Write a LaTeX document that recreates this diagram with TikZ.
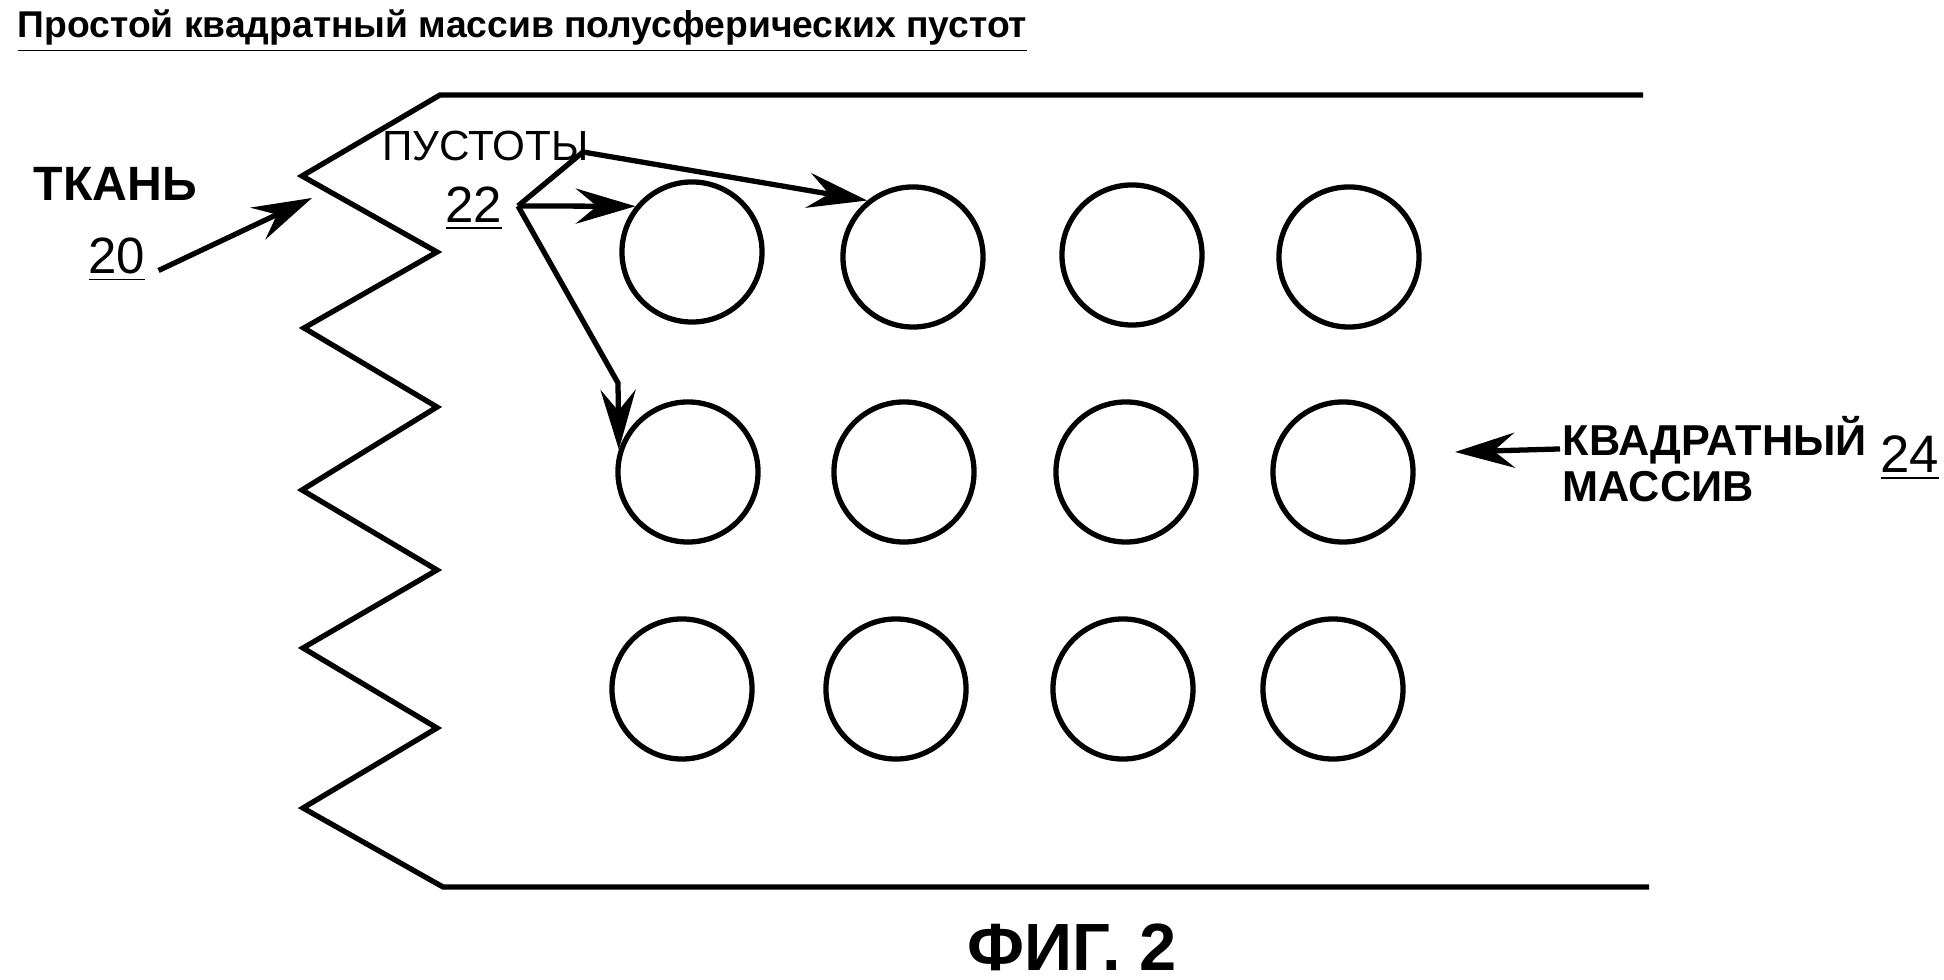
\documentclass[tikz,border=0pt]{standalone}
\usepackage{fontspec}
\setmainfont{Liberation Sans}
\usetikzlibrary{arrows.meta}

\tikzset{
  arr/.style={-{Stealth[length=17pt,width=10pt,inset=6pt]}},
  void/.style={draw,circle,minimum size=1.4cm,inner sep=0pt},
  lbl/.style={anchor=base west,inner sep=0pt},
}

\begin{document}
\begin{tikzpicture}[x=.01cm,y=-.01cm,line width=1.5pt]
\useasboundingbox (0,0) rectangle (1944,980);

\node[lbl,font=\bfseries\fontsize{10.6}{12}\selectfont] (title) at (15,38)
  {\underline{Простой квадратный массив полусферических пустот}};

\draw (1643,95) -- (440,95) -- (302,176) -- (437,252) -- (304,328)
  -- (437,407) -- (302,490) -- (437,570) -- (303,648) -- (437,728)
  -- (303,808) -- (443,887) -- (1649,887);

\foreach \n/\x/\y in {11/692/252, 12/913/257, 13/1132/255, 14/1349/257,
                      21/688/472, 22/904/472, 23/1126/472, 24/1343/472,
                      31/682/689, 32/896/689, 33/1123/689, 34/1333/689} {
  \node[void] (c\n) at (\x,\y) {};
}

\node[lbl,font=\bfseries\fontsize{13.7}{16}\selectfont] (tkan) at (31,201) {ТКАНЬ};
\node[lbl,font=\fontsize{14.5}{16}\selectfont] (n20) at (86,274) {\underline{20}};
\node[lbl,font=\fontsize{12}{14}\selectfont] (pust) at (380,161) {ПУСТОТЫ};
\node[lbl,font=\fontsize{14.5}{16}\selectfont] (n22) at (443,223) {\underline{22}};
\node[lbl,font=\bfseries\fontsize{12.3}{14}\selectfont] (kv) at (1560,456) {КВАДРАТНЫЙ};
\node[lbl,font=\bfseries\fontsize{12.3}{14}\selectfont] (mas) at (1560,502) {МАССИВ};
\node[lbl,font=\fontsize{15}{17}\selectfont] (n24) at (1878,473) {\underline{24}};
\node[lbl,font=\bfseries\fontsize{19}{22}\selectfont] (fig) at (965,971) {ФИГ. 2};

\coordinate (tip20) at (312,198);
\coordinate (j22) at (518,206);
\coordinate (bend1) at (583,152);
\coordinate (bend2) at (618,383);
\coordinate (tip24) at (1455,452);

\draw[arr] ([xshift=3pt,yshift=-3pt]n20.east) -- (tip20);
\draw[arr] (j22) -- (c11.141);
\draw[arr] (j22) -- (bend1) -- (c12.129);
\draw[arr] (j22) -- (bend2) -- (c21.162);
\draw[arr] ([yshift=2pt]kv.base west) -- (tip24);

\end{tikzpicture}
\end{document}
